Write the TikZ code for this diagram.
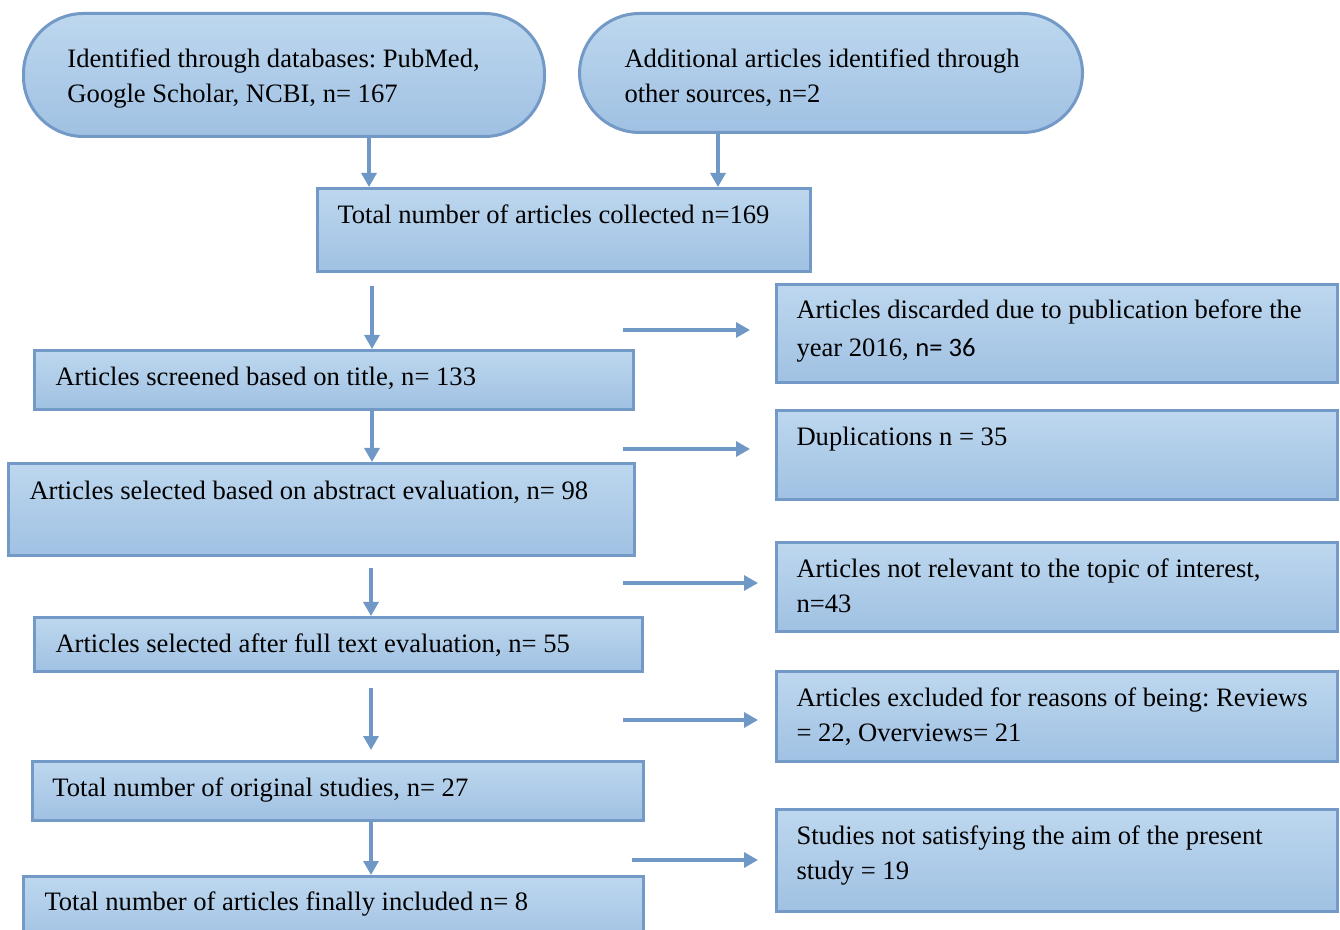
\documentclass[tikz,border=0pt]{standalone}
\usepackage{fontspec}
\setmainfont{Liberation Serif}
\newfontfamily\calibrifont{Carlito}
\usetikzlibrary{arrows.meta, calc, positioning, shapes}
\definecolor{boxtop}{HTML}{BDD7EE}
\definecolor{boxbot}{HTML}{A0C1E3}
\definecolor{boxline}{HTML}{7399C6}
\definecolor{arrowline}{HTML}{6F98C6}
\frenchspacing
\tikzset{
    flowbox/.style n args={4}{
        draw=boxline, line width=1.5pt, top color=boxtop, bottom color=boxbot,
        anchor=north west, align=flush left, inner ysep=0pt,
        inner xsep=#1, text width=#2, text height=#3, text depth=#4,
        font=\fontsize{13.3pt}{17.5pt}\selectfont
    },
    startbox/.style n args={4}{flowbox={#1}{#2}{#3}{#4}, rounded corners=30pt},
    flowarrow/.style={draw=arrowline, line width=1.6pt, -{Triangle[length=7pt, width=7.5pt]}}
}

\begin{document}
\begin{tikzpicture}[x=0.5pt, y=-0.5pt]
    \useasboundingbox (0,0) rectangle (1340,930);
    % sources
    \node[startbox={22pt}{216.5pt}{27pt}{34.5pt}] (sa) at (22,12) {Identified through databases: PubMed,\\Google Scholar, NCBI, n= 167};
    \node[startbox={22.5pt}{206.5pt}{27pt}{32.5pt}] (sb) at (578,12) {Additional articles identified through\\other sources, n=2};
    % main column
    \node[flowbox={10pt}{226.5pt}{17.5pt}{24pt}] (total) at (316,187) {Total number of articles collected n=169};
    \node[flowbox={10.5pt}{278.5pt}{17.5pt}{12pt}] (screened) at (33,349) {Articles screened based on title, n= 133};
    \node[flowbox={10.5pt}{292pt}{18pt}{28pt}] (abstract) at (7,462) {Articles selected based on abstract evaluation, n= 98};
    \node[flowbox={10.5pt}{283pt}{17.5pt}{9.5pt}] (fulltext) at (33,616) {Articles selected after full text evaluation, n= 55};
    \node[flowbox={10pt}{285.5pt}{17.5pt}{12pt}] (original) at (31,760) {Total number of original studies, n= 27};
    \node[flowbox={10.5pt}{289pt}{17pt}{18pt}] (final) at (22,875) {Total number of articles finally included n= 8};
    % excluded
    \node[flowbox={10pt}{260.5pt}{17pt}{32pt}, font=\fontsize{13.3pt}{19pt}\selectfont] (r1) at (775,283) {Articles discarded due to publication before the\\year 2016, {\calibrifont n= 36}};
    \node[flowbox={10pt}{260.5pt}{17.5pt}{27pt}] (r2) at (775,409) {Duplications n = 35};
    \node[flowbox={10pt}{260.5pt}{17.5pt}{27pt}] (r3) at (775,541) {Articles not relevant to the topic of interest,\\n=43};
    \node[flowbox={10pt}{260.5pt}{17.5pt}{27.5pt}] (r4) at (775,670) {Articles excluded for reasons of being: Reviews\\= 22, Overviews= 21};
    \node[flowbox={10pt}{260.5pt}{17.5pt}{33.5pt}] (r5) at (775,808) {Studies not satisfying the aim of the present\\study = 19};
    % arrows
    \coordinate (va) at (369,0);
    \coordinate (vb) at (718,0);
    \coordinate (vc) at (372,0);
    \coordinate (vd) at (371,0);
    \draw[flowarrow] (sa.south -| va) -- (total.north -| va);
    \draw[flowarrow] (sb.south -| vb) -- (total.north -| vb);
    \draw[flowarrow, shorten <=6.5pt] (total.south -| vc) -- (screened.north -| vc);
    \draw[flowarrow] (screened.south -| vc) -- (abstract.north -| vc);
    \draw[flowarrow, shorten <=5.5pt] (abstract.south -| vd) -- (fulltext.north -| vd);
    \draw[flowarrow, shorten <=7.5pt, shorten >=5pt] (fulltext.south -| vd) -- (original.north -| vd);
    \draw[flowarrow] (original.south -| vd) -- (final.north -| vd);
    \coordinate (h1) at (623,330);
    \coordinate (h2) at (623,449);
    \coordinate (h3) at (623,583);
    \coordinate (h4) at (623,720);
    \coordinate (h5) at (632,860);
    \draw[flowarrow, shorten >=12.5pt] (h1) -- (h1 -| r1.west);
    \draw[flowarrow, shorten >=12.5pt] (h2) -- (h2 -| r2.west);
    \draw[flowarrow, shorten >=8.5pt] (h3) -- (h3 -| r3.west);
    \draw[flowarrow, shorten >=8.5pt] (h4) -- (h4 -| r4.west);
    \draw[flowarrow, shorten >=8.5pt] (h5) -- (h5 -| r5.west);
\end{tikzpicture}
\end{document}
